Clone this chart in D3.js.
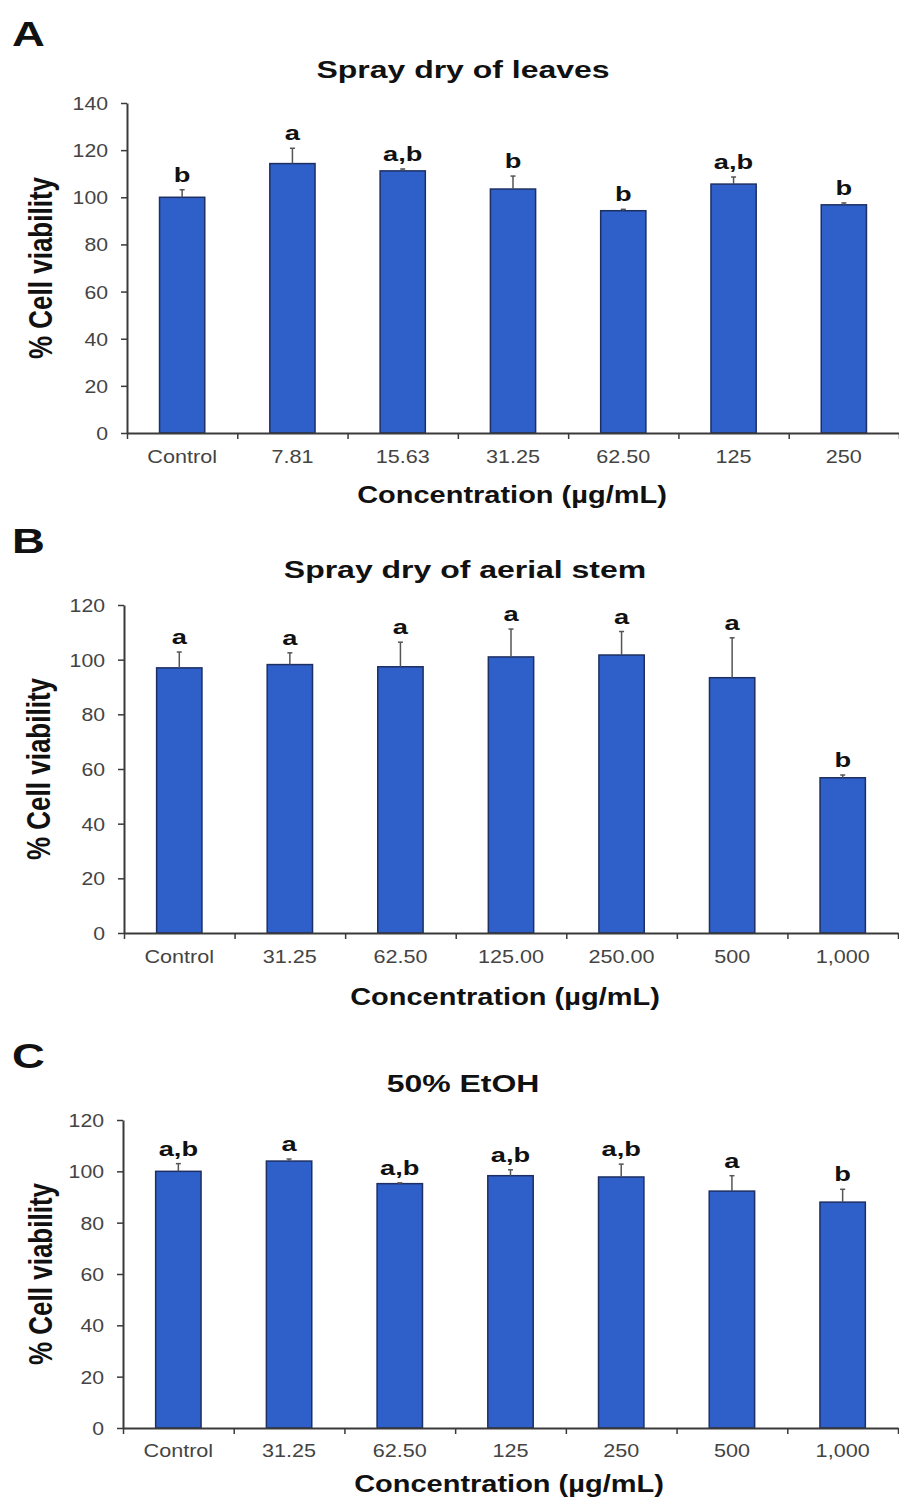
<!DOCTYPE html>
<html>
<head>
<meta charset="utf-8">
<script src="https://cdn.jsdelivr.net/npm/d3@7"></script>
<style>
  body { margin: 0; background: #fff; }
  svg { display: block; }
</style>
</head>
<body>
<div id="chart"></div>
<script>
// panel A - spray dry of leaves
const catsA = ["Control", "7.81", "15.63", "31.25", "62.50", "125", "250"];
const valsA = [100, 114.3, 111.2, 103.5, 94.3, 105.6, 96.8];
const errsA = [3.2, 6.5, 0.8, 5.5, 0.6, 3.0, 0.8];
const lettersA = ["b", "a", "a,b", "b", "b", "a,b", "b"];

// panel B - spray dry of aerial stem
const catsB = ["Control", "31.25", "62.50", "125.00", "250.00", "500", "1,000"];
const valsB = [97, 98.2, 97.4, 101, 101.7, 93.4, 56.8];
const errsB = [5.8, 4.3, 9.0, 10.2, 8.6, 14.6, 1.0];
const lettersB = ["a", "a", "a", "a", "a", "a", "b"];

// panel C - 50% EtOH
const catsC = ["Control", "31.25", "62.50", "125", "250", "500", "1,000"];
const valsC = [100, 104, 95.2, 98.3, 97.8, 92.3, 88];
const errsC = [3.0, 0.8, 0.3, 2.3, 5.0, 6.0, 5.0];
const lettersC = ["a,b", "a", "a,b", "a,b", "a,b", "a", "b"];

const yTicksA = [0, 20, 40, 60, 80, 100, 120, 140];
const yTicksBC = [0, 20, 40, 60, 80, 100, 120];

const panels = [
  { tag: "A", title: "Spray dry of leaves", cats: catsA, vals: valsA, errs: errsA, letters: lettersA, yTicks: yTicksA,
    top: 103, bottom: 433, left: 127, right: 899, tagY: 46, titleY: 78, titleX: 463,
    tickLabelY: 463, xTitleY: 503, xTitleX: 512, yLabelX: 42 },
  { tag: "B", title: "Spray dry of aerial stem", cats: catsB, vals: valsB, errs: errsB, letters: lettersB, yTicks: yTicksBC,
    top: 605, bottom: 933, left: 124, right: 898, tagY: 553, titleY: 578, titleX: 465,
    tickLabelY: 963, xTitleY: 1005, xTitleX: 505, yLabelX: 40 },
  { tag: "C", title: "50% EtOH", cats: catsC, vals: valsC, errs: errsC, letters: lettersC, yTicks: yTicksBC,
    top: 1120, bottom: 1428, left: 123, right: 898, tagY: 1068, titleY: 1092, titleX: 463,
    tickLabelY: 1457, xTitleY: 1492, xTitleX: 509, yLabelX: 42 }
];

const W = 899, H = 1505;
const SX = 1.25; // the reference text is a bit wider than it is tall
const font = "Liberation Sans, Arial, sans-serif";
const barFill = "#2f5fc9";
const barStroke = "#1d2f63";
const axisColor = "#3a3a3a";

const svg = d3.select("#chart").append("svg")
  .attr("width", W).attr("height", H)
  .style("background", "#fff");

// stretched text helper
function stext(parent, x, y, str, size, opts) {
  opts = opts || {};
  const sx = opts.sx || SX;
  const g = parent.append("g")
    .attr("transform", `translate(${x},${y}) scale(${sx},1)` + (opts.rotate ? ` rotate(${opts.rotate})` : ""));
  return g.append("text")
    .attr("text-anchor", opts.anchor || "middle")
    .style("font-family", font)
    .style("font-size", size + "px")
    .style("font-weight", opts.bold ? "bold" : "normal")
    .style("fill", opts.color || "#111")
    .text(str);
}

panels.forEach(p => {
  const g = svg.append("g");
  const yMax = d3.max(p.yTicks);

  const y = d3.scaleLinear().domain([0, yMax]).range([p.bottom, p.top]);
  const x = d3.scaleBand().domain(p.cats).range([p.left, p.right])
    .paddingInner(0.59).paddingOuter(0.295);
  const bounds = d3.scaleLinear().domain([0, p.cats.length]).range([p.left, p.right]);

  // panel letter + title
  stext(g, 12, p.tagY, p.tag, 35, { anchor: "start", bold: true, sx: 1.3 });
  stext(g, p.titleX, p.titleY, p.title, 23.5, { bold: true, sx: 1.36 });

  // bars
  g.selectAll(".bar").data(p.vals).enter().append("rect")
    .attr("class", "bar")
    .attr("x", (d, i) => x(p.cats[i]))
    .attr("y", d => y(d))
    .attr("width", x.bandwidth())
    .attr("height", d => y(0) - y(d))
    .attr("fill", barFill)
    .attr("stroke", barStroke)
    .attr("stroke-width", 1.5);

  // error bars, upward only
  const eb = g.selectAll(".err").data(p.vals).enter().append("g").attr("class", "err");
  eb.append("line")
    .attr("x1", (d, i) => x(p.cats[i]) + x.bandwidth() / 2)
    .attr("x2", (d, i) => x(p.cats[i]) + x.bandwidth() / 2)
    .attr("y1", d => y(d))
    .attr("y2", (d, i) => y(d + p.errs[i]))
    .attr("stroke", "#555").attr("stroke-width", 1.5);
  eb.append("line")
    .attr("x1", (d, i) => x(p.cats[i]) + x.bandwidth() / 2 - 2.5)
    .attr("x2", (d, i) => x(p.cats[i]) + x.bandwidth() / 2 + 2.5)
    .attr("y1", (d, i) => y(d + p.errs[i]))
    .attr("y2", (d, i) => y(d + p.errs[i]))
    .attr("stroke", "#555").attr("stroke-width", 1.5);

  // significance letters
  p.vals.forEach((d, i) => {
    stext(g, x(p.cats[i]) + x.bandwidth() / 2, y(d + p.errs[i]) - 8, p.letters[i], 21, { bold: true, sx: 1.3 });
  });

  // y axis
  const yAxis = g.append("g")
    .attr("transform", `translate(${p.left},0)`)
    .call(d3.axisLeft(y).tickValues(p.yTicks).tickSize(6).tickSizeOuter(0).tickPadding(0));
  yAxis.select(".domain").attr("stroke", axisColor).attr("stroke-width", 2);
  yAxis.selectAll(".tick line").attr("stroke", axisColor).attr("stroke-width", 1.5);
  yAxis.selectAll(".tick text")
    .attr("x", -19 / 1.18).attr("dy", "0.36em")
    .attr("transform", "scale(1.18,1)")
    .style("font-family", font).style("font-size", "18px").style("fill", "#444");

  // x axis: tick marks between categories
  const xAxis = g.append("g")
    .attr("transform", `translate(0,${p.bottom})`)
    .call(d3.axisBottom(bounds).tickValues(d3.range(p.cats.length + 1)).tickSize(6).tickSizeOuter(0).tickFormat(""));
  xAxis.select(".domain").attr("stroke", axisColor).attr("stroke-width", 2);
  xAxis.selectAll(".tick line").attr("stroke", axisColor).attr("stroke-width", 1.5);

  // category labels
  p.cats.forEach(c => {
    stext(g, x(c) + x.bandwidth() / 2, p.tickLabelY, c, 18, { color: "#444", sx: 1.2 });
  });

  // axis titles
  stext(g, p.xTitleX, p.xTitleY, "Concentration (µg/mL)", 23, { bold: true, sx: 1.26 });
  stext(g, p.yLabelX + 10, (p.top + p.bottom) / 2, "% Cell viability", 26, { bold: true, sx: 1.25, rotate: -90 });
});
</script>
</body>
</html>
